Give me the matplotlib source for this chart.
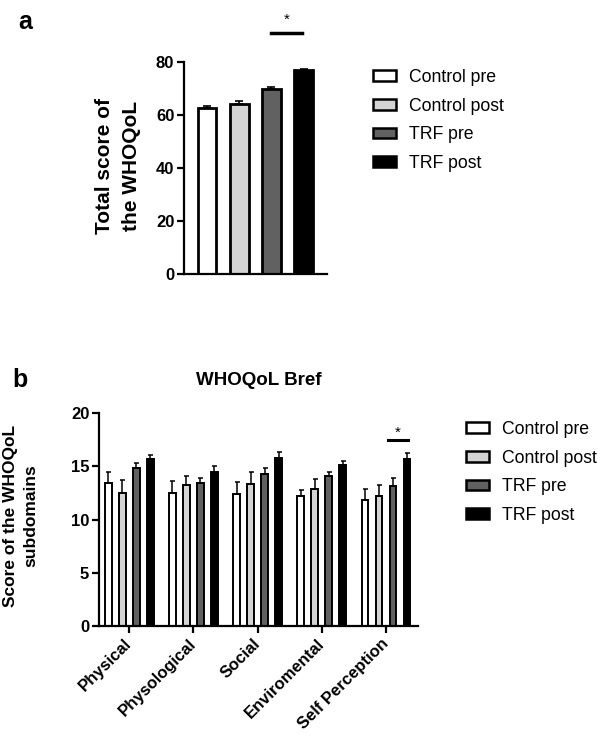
import numpy as np
import matplotlib.pyplot as plt
from matplotlib.patches import Patch

plt.rcParams["font.family"] = ["Liberation Sans", "DejaVu Sans"]

# panel a: total WHOQoL score
groups = ["Control pre", "Control post", "TRF pre", "TRF post"]
total_mean = [62.6, 64.1, 69.8, 76.9]
total_err = [0.8, 1.3, 0.7, 0.5]

# panel b: WHOQoL Bref subdomains
domains = ["Physical", "Physological", "Social", "Enviromental", "Self Perception"]
control_pre = [13.4, 12.5, 12.35, 12.25, 11.8]
control_pre_err = [1.1, 1.1, 1.15, 0.55, 1.1]
control_post = [12.5, 13.2, 13.3, 12.85, 12.2]
control_post_err = [1.2, 0.9, 1.2, 0.95, 1.0]
trf_pre = [14.8, 13.4, 14.3, 14.1, 13.1]
trf_pre_err = [0.5, 0.5, 0.5, 0.35, 0.8]
trf_post = [15.7, 14.5, 15.8, 15.1, 15.7]
trf_post_err = [0.4, 0.5, 0.5, 0.4, 0.5]

colors = ["#ffffff", "#d4d4d4", "#616161", "#000000"]


def style_axis(ax):
    for side in ["top", "right"]:
        ax.spines[side].set_visible(False)
    for side in ["left", "bottom"]:
        ax.spines[side].set_linewidth(1.6)
    ax.tick_params(axis="y", width=1.6, length=5, labelsize=12, pad=2)
    for lab in ax.get_yticklabels():
        lab.set_fontweight("bold")


def add_legend(fig, x, y):
    handles = [Patch(facecolor=c, edgecolor="black", linewidth=1.8) for c in colors]
    fig.legend(handles, groups, loc="upper left", bbox_to_anchor=(x, y),
               frameon=False, fontsize=12.7, borderpad=0, borderaxespad=0,
               handlelength=1.3, handleheight=0.55, handletextpad=0.75,
               labelspacing=0.66)


fig = plt.figure(figsize=(5.98, 7.37), dpi=100)

# ---- panel a ----
ax1 = fig.add_axes([184 / 598, 1 - 274 / 737, 143 / 598, 212 / 737])
x1 = np.arange(len(groups))
ax1.errorbar(x1, total_mean, yerr=[np.zeros(4), total_err], fmt="none",
             ecolor="black", elinewidth=1.2, capsize=3.2, capthick=1.2, zorder=1)
ax1.bar(x1, total_mean, width=0.58, color=colors, edgecolor="black",
        linewidth=2.0, zorder=2)
ax1.set_xlim(-0.72, 3.73)
ax1.set_ylim(0, 80)
ax1.set_yticks([0, 20, 40, 60, 80])
ax1.set_xticks([])
style_axis(ax1)
ax1.plot([2.0, 2.95], [91, 91], color="black", lw=2.5, clip_on=False)
ax1.text(2.47, 94.4, "*", ha="center", va="baseline", fontsize=11)
fig.text(118 / 598, 1 - 166 / 737, "Total score of\nthe WHOQoL", rotation=90,
         ha="center", va="center", fontsize=15, fontweight="bold",
         multialignment="center", linespacing=1.55)
fig.text(18 / 598, 1 - 10 / 737, "a", fontsize=18, fontweight="bold",
         ha="left", va="top")
add_legend(fig, 373 / 598, 1 - 69 / 737)

# ---- panel b ----
ax2 = fig.add_axes([99 / 598, 1 - 626 / 737, 319 / 598, 213 / 737])
x2 = np.arange(len(domains))
offsets = [-0.327, -0.109, 0.109, 0.327]
series = [(control_pre, control_pre_err), (control_post, control_post_err),
          (trf_pre, trf_pre_err), (trf_post, trf_post_err)]
for off, (vals, errs), c in zip(offsets, series, colors):
    ax2.errorbar(x2 + off, vals, yerr=[np.zeros(len(vals)), errs], fmt="none",
                 ecolor="black", elinewidth=1.1, capsize=1.8, capthick=1.1,
                 zorder=1)
    ax2.bar(x2 + off, vals, width=0.105, color=c, edgecolor="black",
            linewidth=1.4, zorder=2)
ax2.set_xlim(-0.47, 4.5)
ax2.set_ylim(0, 20)
ax2.set_yticks([0, 5, 10, 15, 20])
ax2.set_xticks(x2)
ax2.set_xticklabels(domains, rotation=45, ha="right", va="center",
                    rotation_mode="anchor", fontsize=12, fontweight="bold")
style_axis(ax2)
ax2.tick_params(axis="x", width=1.6, length=5, pad=6)
ax2.set_title("WHOQoL Bref", fontsize=13.5, fontweight="bold", pad=20)
ax2.plot([4.03, 4.34], [17.5, 17.5], color="black", lw=2.2, clip_on=False)
ax2.text(4.19, 17.8, "*", ha="center", va="baseline", fontsize=11)
fig.text(21 / 598, 1 - 516 / 737, "Score of the WHOQoL\nsubdomains", rotation=90,
         ha="center", va="center", fontsize=12.5, fontweight="bold",
         multialignment="center", linespacing=1.42)
fig.text(12 / 598, 1 - 368 / 737, "b", fontsize=18, fontweight="bold",
         ha="left", va="top")
add_legend(fig, 466 / 598, 1 - 421 / 737)

fig.savefig("out.png", dpi=100)
